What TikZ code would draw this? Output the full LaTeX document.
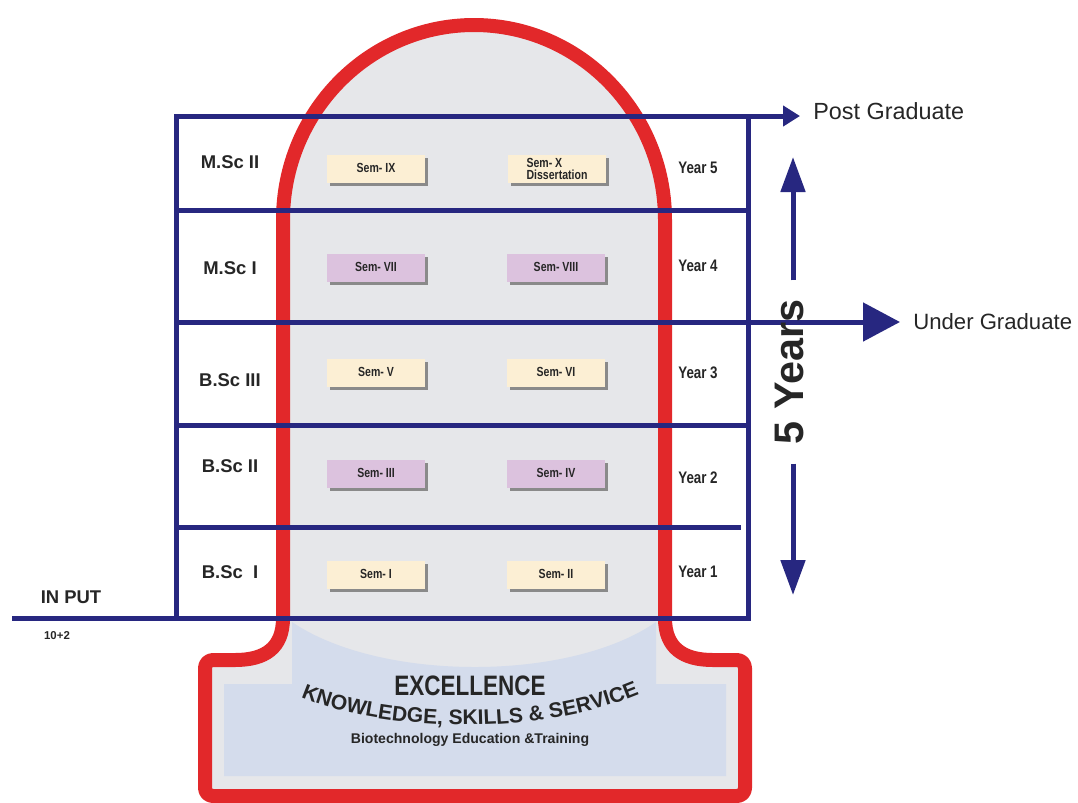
\documentclass[tikz,border=0pt]{standalone}
\usepackage{fontspec}
\setmainfont{Liberation Sans}
\newfontfamily\condsf[FakeStretch=0.8]{Liberation Sans}
\usetikzlibrary{arrows.meta,decorations.text,shadows}

\definecolor{navy}{HTML}{272780}
\definecolor{bulletred}{HTML}{E2282A}
\definecolor{domegray}{HTML}{E6E7EA}
\definecolor{baseblue}{HTML}{D4DCEC}
\definecolor{semcream}{HTML}{FCEFD4}
\definecolor{semlilac}{HTML}{DCC2DE}
\definecolor{semshadow}{HTML}{8A8A8A}
\definecolor{ink}{HTML}{262626}

\tikzset{
  tableline/.style={navy, line width=0.1cm},
  redline/.style={bulletred, line width=0.28cm, line join=round},
  semcard/.style={fill=#1, minimum width=1.96cm, minimum height=0.56cm,
    inner sep=0pt, text depth=1.5pt, text=ink,
    font=\condsf\bfseries\fontsize{7.5}{7}\selectfont,
    drop shadow={shadow xshift=0.06cm, shadow yshift=-0.06cm, fill=semshadow, opacity=1}},
  degree/.style={text=ink, font=\bfseries\fontsize{10.5}{12}\selectfont},
  yearlabel/.style={text=ink, font=\condsf\bfseries\fontsize{9.5}{11}\selectfont},
  stream/.style={anchor=west, inner xsep=0.26cm, inner ysep=0pt, text=ink},
  spanarrow/.style={tableline, -{Triangle[length=0.7cm, width=0.48cm]}},
}

\begin{document}
\begin{tikzpicture}[x=0.02cm, y=-0.02cm]
  \fill[white] (0,0) rectangle (1078,802);
  \useasboundingbox (0,0) rectangle (1078,802);
  % bullet body
  \draw[redline, fill=domegray] (283,618) -- (283,220)
    arc[start angle=180, end angle=360, x radius=191, y radius=195]
    -- (665,618) .. controls (665,648) and (683,660) .. (713,660)
    [rounded corners=0.16cm] -- (745,660) -- (745,796) -- (205,796) -- (205,660)
    [sharp corners] -- (235,660)
    .. controls (265,660) and (283,648) .. (283,618) -- cycle;
  \fill[baseblue] (224,776) -- (224,684) -- (292,684) -- (292,622)
    .. controls (380,682) and (570,682) .. (656,622)
    -- (656,684) -- (726,684) -- (726,776) -- cycle;
  % semester cards
  \foreach \nm/\x/\y/\col/\txt in {1/376/575/semcream/Sem- I, 2/556/575/semcream/Sem- II,
      3/376/474/semlilac/Sem- III, 4/556/474/semlilac/Sem- IV,
      5/376/373/semcream/Sem- V, 6/556/373/semcream/Sem- VI,
      7/376/268/semlilac/Sem- VII, 8/556/268/semlilac/Sem- VIII,
      9/376/169/semcream/Sem- IX} {
    \node[semcard=\col] (sem\nm) at (\x,\y) {\txt};
  }
  \node[semcard=semcream, align=left, text depth=0pt] (sem10) at (557,169)
    {Sem- X\\Dissertation};
  % table
  \draw[tableline] (176,116) rectangle (748,618);
  \foreach \yy in {210, 425} {
    \draw[tableline] (176,\yy) -- (748,\yy);
  }
  \draw[tableline] (176,527) -- (741,527);
  \draw[tableline] (12,618) -- (748,618);
  % degree and year labels
  \foreach \nm/\yy/\txt in {5/162/M.Sc II, 4/268/M.Sc I, 3/380/B.Sc III,
      2/466/B.Sc II, 1/572/B.Sc~ I} {
    \node[degree] (deg\nm) at (230,\yy) {\txt};
  }
  \foreach \nm/\yy in {5/168, 4/266, 3/373, 2/478, 1/572} {
    \node[yearlabel] (year\nm) at (698,\yy) {Year \nm};
  }
  \node[text=ink, font=\bfseries\fontsize{10.5}{12}\selectfont] (input) at (71,597) {IN PUT};
  \node[text=ink, font=\bfseries\fontsize{6.5}{8}\selectfont] (tenplus) at (57,636) {10+2};
  % outlets
  \coordinate (pgstart) at (176,116);
  \coordinate (ugstart) at (176,322);
  \node[stream, font=\fontsize{13.3}{15}\selectfont] (pg) at (800,111) {Post Graduate};
  \node[stream, font=\fontsize{12.6}{15}\selectfont] (ug) at (900,322) {Under Graduate};
  \draw[tableline, -{Triangle[length=0.34cm, width=0.4cm]}] (pgstart) -- (pgstart -| pg.west);
  \draw[tableline, -{Triangle[length=0.74cm, width=0.76cm]}] (ugstart) -- (ugstart -| ug.west);
  % duration
  \node[rotate=90, inner xsep=0.38cm, text=ink,
    font=\bfseries\fontsize{23.5}{26}\selectfont] (span) at (789,372) {5 Years};
  \coordinate (spantop) at (793,157);
  \coordinate (spanbot) at (793,595);
  \draw[spanarrow] (span.east -| spantop) -- (spantop);
  \draw[spanarrow] (span.west -| spanbot) -- (spanbot);
  % motto
  \node[text=ink, font=\condsf\bfseries\fontsize{16}{18}\selectfont] (motto) at (470,686) {EXCELLENCE};
  \path[decorate, decoration={text along path, text align=center,
      text={|\bfseries\fontsize{12}{14}\selectfont\color{ink}|KNOWLEDGE, SKILLS {\&} SERVICE}}]
    (292,693) .. controls (372,732) and (540,740) .. (648,690);
  \node[text=ink, font=\bfseries\fontsize{8}{9}\selectfont] (course) at (470,740)
    {Biotechnology Education \&Training};
\end{tikzpicture}
\end{document}
